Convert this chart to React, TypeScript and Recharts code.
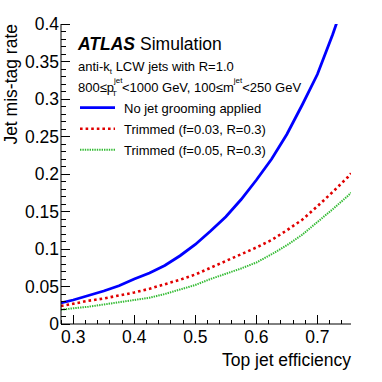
import { LineChart, Line, XAxis, YAxis } from 'recharts';

// Top jet efficiency (x) and jet mis-tag rate (y)
const efficiency = [
  0.28, 0.3, 0.325, 0.35, 0.375, 0.4, 0.425, 0.45, 0.475, 0.5, 0.525,
  0.55, 0.575, 0.6, 0.625, 0.65, 0.675, 0.7, 0.725, 0.75, 0.755,
];
const noGrooming = [
  0.028, 0.032, 0.038, 0.044, 0.051, 0.06, 0.068, 0.078, 0.091, 0.106, 0.124,
  0.143, 0.166, 0.192, 0.22, 0.253, 0.292, 0.333, 0.386, 0.445, 0.458,
];
const trimmed003 = [
  0.024, 0.027, 0.031, 0.034, 0.038, 0.042, 0.047, 0.053, 0.059, 0.066, 0.075,
  0.084, 0.093, 0.102, 0.112, 0.125, 0.139, 0.157, 0.176, 0.196, 0.201,
];
const trimmed005 = [
  0.019, 0.021, 0.023, 0.026, 0.029, 0.032, 0.035, 0.04, 0.046, 0.052, 0.06,
  0.067, 0.074, 0.082, 0.093, 0.105, 0.119, 0.136, 0.153, 0.171, 0.175,
];

const seriesNames = [
  'No jet grooming applied',
  'Trimmed (f=0.03, R=0.3)',
  'Trimmed (f=0.05, R=0.3)',
];

const xDomain = [0.28, 0.755];
const yDomain = [0, 0.4];
const xTicks = [
  0.28, 0.3, 0.32, 0.34, 0.36, 0.38, 0.4, 0.42, 0.44, 0.46, 0.48, 0.5,
  0.52, 0.54, 0.56, 0.58, 0.6, 0.62, 0.64, 0.66, 0.68, 0.7, 0.72, 0.74,
];
const xTickLabels = [0.3, 0.4, 0.5, 0.6, 0.7];
const yTicks = Array.from({ length: 41 }, (_, i) => i / 100);
const yTickLabels = [0, 0.05, 0.1, 0.15, 0.2, 0.25, 0.3, 0.35, 0.4];

const data = efficiency.map((eff, i) => ({
  eff,
  noGrooming: noGrooming[i],
  trimmed003: trimmed003[i],
  trimmed005: trimmed005[i],
}));

const FONT = '"Liberation Sans", Arial, Helvetica, sans-serif';
const isLabel = (list: number[], v: number) => list.some((t) => Math.abs(t - v) < 1e-6);

function BottomTick({ x, y, payload }: any) {
  const major = isLabel(xTickLabels, payload.value);
  return (
    <g>
      <line x1={x} x2={x} y1={y} y2={y - (major ? 9 : 4.5)} stroke="#000" shapeRendering="crispEdges" />
      {major && (
        <text x={x} y={y + 19} textAnchor="middle" fontSize={17.5} fill="#000">
          {String(payload.value)}
        </text>
      )}
    </g>
  );
}

function TopTick({ x, y, payload }: any) {
  const major = isLabel(xTickLabels, payload.value);
  return <line x1={x} x2={x} y1={y} y2={y + (major ? 9 : 4.5)} stroke="#000" shapeRendering="crispEdges" />;
}

function LeftTick({ x, y, payload }: any) {
  const major = isLabel(yTickLabels, payload.value);
  return (
    <g>
      <line x1={x} x2={x + (major ? 9 : 4.5)} y1={y} y2={y} stroke="#000" shapeRendering="crispEdges" />
      {major && (
        <text x={x - 2} y={y} dy="0.36em" textAnchor="end" fontSize={17.5} fill="#000">
          {String(payload.value)}
        </text>
      )}
    </g>
  );
}

function RightTick({ x, y, payload }: any) {
  const major = isLabel(yTickLabels, payload.value);
  return <line x1={x} x2={x - (major ? 9 : 4.5)} y1={y} y2={y} stroke="#000" shapeRendering="crispEdges" />;
}

export default function App() {
  return (
    <div
      style={{
        position: 'absolute',
        left: 0,
        top: 0,
        width: 382,
        height: 382,
        background: '#fff',
        fontFamily: FONT,
      }}
    >
      <LineChart
        width={382}
        height={382}
        data={data}
        margin={{ top: 24, right: 31, left: 0, bottom: 0 }}
      >
        <XAxis
          dataKey="eff"
          type="number"
          domain={xDomain}
          ticks={xTicks}
          interval={0}
          allowDataOverflow
          height={58}
          tickLine={false}
          tickSize={0}
          tickMargin={0}
          axisLine={{ stroke: '#000' }}
          tick={<BottomTick />}
        />
        <XAxis
          xAxisId="top"
          orientation="top"
          dataKey="eff"
          type="number"
          domain={xDomain}
          ticks={xTicks}
          interval={0}
          allowDataOverflow
          height={0}
          tickLine={false}
          tickSize={0}
          tickMargin={0}
          axisLine={{ stroke: '#000' }}
          tick={<TopTick />}
        />
        <YAxis
          type="number"
          domain={yDomain}
          ticks={yTicks}
          interval={0}
          allowDataOverflow
          width={61}
          tickLine={false}
          tickSize={0}
          tickMargin={0}
          axisLine={{ stroke: '#000' }}
          tick={<LeftTick />}
        />
        <YAxis
          yAxisId="right"
          orientation="right"
          type="number"
          domain={yDomain}
          ticks={yTicks}
          interval={0}
          allowDataOverflow
          width={0}
          tickLine={false}
          tickSize={0}
          tickMargin={0}
          axisLine={{ stroke: '#000' }}
          tick={<RightTick />}
        />
        <Line
          type="linear"
          dataKey="trimmed005"
          name={seriesNames[2]}
          stroke="#33bb33"
          strokeWidth={2}
          strokeDasharray="1.4 1"
          dot={false}
          isAnimationActive={false}
        />
        <Line
          type="linear"
          dataKey="trimmed003"
          name={seriesNames[1]}
          stroke="#e00000"
          strokeWidth={2.6}
          strokeDasharray="2.6 3"
          dot={false}
          isAnimationActive={false}
        />
        <Line
          type="linear"
          dataKey="noGrooming"
          name={seriesNames[0]}
          stroke="#0000ff"
          strokeWidth={2.8}
          dot={false}
          isAnimationActive={false}
        />
      </LineChart>

      {/* ATLAS label, selection text, legend and axis titles */}
      <svg
        width={382}
        height={382}
        style={{ position: 'absolute', left: 0, top: 0, pointerEvents: 'none' }}
      >
        <text x={78} y={49.5} fontSize={17.5} fill="#000">
          <tspan fontWeight="bold" fontStyle="italic">ATLAS</tspan>
          <tspan dx={5}>Simulation</tspan>
        </text>
        <text x={78} y={70.5} fontSize={13} fill="#000">
          anti-k
          <tspan fontSize={8} dy={3.5}>t</tspan>
          <tspan dy={-3.5}> LCW jets with R=1.0</tspan>
        </text>
        <text x={78} y={91.5} fontSize={13} fill="#000">
          800≤p
          <tspan fontSize={8} dy={-8.5}>jet</tspan>
          <tspan fontSize={8} dx={-10.5} dy={13}>T</tspan>
          <tspan dx={5} dy={-4.5}>{'<1000 GeV, 100≤m'}</tspan>
          <tspan fontSize={8} dy={-8.5}>jet</tspan>
          <tspan dy={8.5}>{'<250 GeV'}</tspan>
        </text>

        <line x1={80} x2={115} y1={107.7} y2={107.7} stroke="#0000ff" strokeWidth={2.8} />
        <text x={124} y={112.5} fontSize={13} fill="#000">{seriesNames[0]}</text>
        <line x1={80} x2={115} y1={128.8} y2={128.8} stroke="#e00000" strokeWidth={2.6} strokeDasharray="2.6 3" />
        <text x={124} y={133.5} fontSize={13} fill="#000">{seriesNames[1]}</text>
        <line x1={80} x2={115} y1={149.7} y2={149.7} stroke="#33bb33" strokeWidth={2} strokeDasharray="1.4 1" />
        <text x={124} y={154.5} fontSize={13} fill="#000">{seriesNames[2]}</text>

        <text x={351} y={366} textAnchor="end" fontSize={17.5} fill="#000">
          Top jet efficiency
        </text>
        <text
          x={0}
          y={0}
          transform="translate(16.5 24) rotate(-90)"
          textAnchor="end"
          fontSize={17.5}
          fill="#000"
        >
          Jet mis-tag rate
        </text>
      </svg>
    </div>
  );
}
